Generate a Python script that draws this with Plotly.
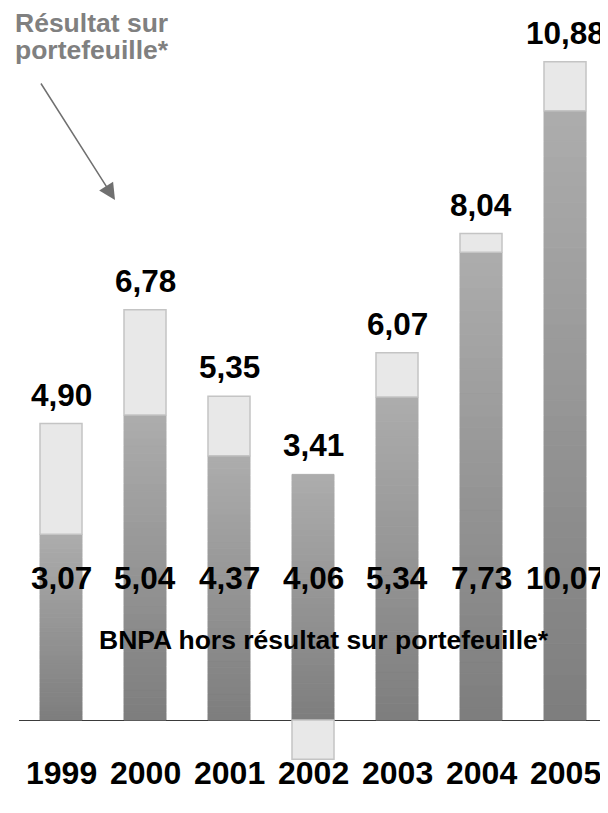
import plotly.graph_objects as go

years = ["1999", "2000", "2001", "2002", "2003", "2004", "2005"]
bnpa_hors = [3.07, 5.04, 4.37, 4.06, 5.34, 7.73, 10.07]
bnpa_total = [4.90, 6.78, 5.35, 3.41, 6.07, 8.04, 10.88]
portefeuille = [round(t - b, 2) for t, b in zip(bnpa_total, bnpa_hors)]
xpos = list(range(len(years)))

def fmt(v):
    return f"{v:.2f}".replace(".", ",")

FONT = "Liberation Sans, Arial, sans-serif"
N = 40
c_bot = (126, 126, 126)
c_top = (172, 172, 172)

fig = go.Figure()
for k in range(N):
    f = k / (N - 1)
    g = "rgb(%d,%d,%d)" % tuple(round(a + (b - a) * f) for a, b in zip(c_bot, c_top))
    fig.add_trace(go.Bar(
        x=xpos, y=[v / N for v in bnpa_hors], width=0.5,
        marker=dict(color=g, line=dict(color=g, width=1)),
        showlegend=False, hoverinfo="skip"))

fig.add_trace(go.Bar(
    x=xpos, y=portefeuille, width=0.5,
    marker=dict(color="#e8e8e8", line=dict(color="#c4c4c4", width=1.5)),
    showlegend=False, hoverinfo="skip"))

ann = []
for i, b, t in zip(xpos, bnpa_hors, bnpa_total):
    ann.append(dict(x=i, y=max(b, t), xref="x", yref="y", text="<b>%s</b>" % fmt(t),
                    showarrow=False, yanchor="bottom", yshift=9,
                    font=dict(family=FONT, size=31.5, color="black")))
    ann.append(dict(x=i, y=2.35, xref="x", yref="y", text="<b>%s</b>" % fmt(b),
                    showarrow=False, yanchor="middle",
                    font=dict(family=FONT, size=31.5, color="black")))
for i, yr in zip(xpos, years):
    ann.append(dict(x=i, y=-11 / 754, xref="x", yref="paper", text="<b>%s</b>" % yr,
                    showarrow=False, yanchor="middle",
                    font=dict(family=FONT, size=32, color="black")))

ann.append(dict(x=0.519, y=1.32, xref="paper", yref="y",
                text="<b>BNPA hors résultat sur portefeuille*</b>", showarrow=False,
                font=dict(family=FONT, size=26.5, color="black")))
ann.append(dict(x=-0.009, y=1 - 15 / 754, xref="paper", yref="paper",
                xanchor="left", yanchor="middle", borderpad=0,
                text="<b>Résultat sur</b>", showarrow=False,
                font=dict(family=FONT, size=26.5, color="#808080")))
ann.append(dict(x=-0.009, y=1 - 42 / 754, xref="paper", yref="paper",
                xanchor="left", yanchor="middle", borderpad=0,
                text="<b>portefeuille*</b>", showarrow=False,
                font=dict(family=FONT, size=26.5, color="#808080")))
ann.append(dict(x=(115 - 19) / 588, y=1 - 192 / 754, xref="paper", yref="paper",
                ax=-75, ay=-118, text="", showarrow=True, arrowhead=2,
                arrowsize=2.2, arrowwidth=1.5, arrowcolor="#707070", standoff=0))

fig.update_layout(
    width=600, height=805,
    margin=dict(l=11, r=1, t=0, b=51),
    barmode="relative",
    plot_bgcolor="white", paper_bgcolor="white",
    annotations=ann,
    xaxis=dict(range=[-0.5, 6.5], showgrid=False, showline=False, zeroline=False, ticks="",
               showticklabels=False),
    yaxis=dict(range=[-0.694, 11.769], showgrid=False, showticklabels=False,
               zeroline=True, zerolinecolor="#3a3a3a", zerolinewidth=1),
)

fig.write_html("out.html")
